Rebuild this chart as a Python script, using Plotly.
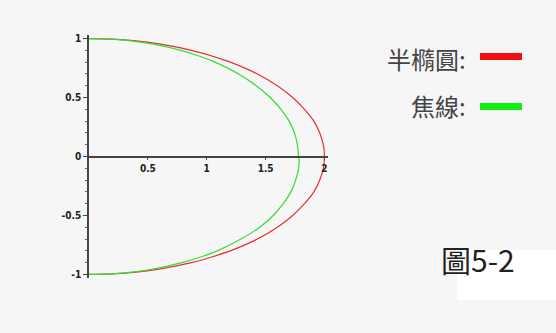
import plotly.graph_objects as go

# ---- data ----
ellipse_y = [1, 0.995, 0.98, 0.95, 0.9, 0.85, 0.8, 0.7, 0.6, 0.5, 0.4, 0.3, 0.2, 0.1, 0,
             -0.1, -0.2, -0.3, -0.4, -0.5, -0.6, -0.7, -0.8, -0.85, -0.9, -0.95, -0.98, -0.995, -1]
ellipse_x = [0, 0.2, 0.4, 0.62, 0.87, 1.05, 1.2, 1.43, 1.6, 1.73, 1.83, 1.91, 1.96, 1.99, 2.0,
             1.99, 1.96, 1.91, 1.83, 1.73, 1.6, 1.43, 1.2, 1.05, 0.87, 0.62, 0.4, 0.2, 0]

focal_y = [1, 0.995, 0.98, 0.95, 0.9, 0.85, 0.8, 0.7, 0.6, 0.5, 0.4, 0.3, 0.2, 0.1, 0, -0.04,
           -0.1, -0.2, -0.3, -0.4, -0.5, -0.6, -0.7, -0.8, -0.85, -0.9, -0.95, -0.98, -0.995, -1]
focal_x = [0, 0.19, 0.36, 0.56, 0.78, 0.94, 1.07, 1.27, 1.42, 1.54, 1.63, 1.70, 1.745, 1.77, 1.78, 1.785,
           1.78, 1.755, 1.715, 1.65, 1.565, 1.45, 1.29, 1.09, 0.955, 0.79, 0.565, 0.365, 0.19, 0]

y_ticks = [-1, -0.5, 0, 0.5, 1]
y_tick_text = ["-1", "-0.5", "0", "0.5", "1"]
x_ticks = [0.5, 1, 1.5, 2]
x_tick_text = ["0.5", "1", "1.5", "2"]

legend_labels = ["半橢圓:", "焦線:"]
legend_colors = ["#ee1111", "#11ee11"]
figure_label = "圖5-2"

# ---- layout helpers (pixel -> paper) ----
L, R, T, B = 89, 228, 35, 55
W, H = 556, 333
PW, PH = W - L - R, H - T - B


def px(x):
    return (x - L) / PW


def py(y):
    return (H - B - y) / PH


fig = go.Figure()
fig.add_trace(go.Scatter(x=ellipse_x, y=ellipse_y, mode="lines", line=dict(color="#e83030", width=1.2, shape="spline"),
                         showlegend=False, hoverinfo="skip"))
fig.add_trace(go.Scatter(x=focal_x, y=focal_y, mode="lines", line=dict(color="#33dd33", width=1.2, shape="spline"),
                         showlegend=False, hoverinfo="skip"))

tickfont = dict(family="DejaVu Sans Condensed", size=10, color="#222", weight="bold")
fig.update_layout(
    width=W, height=H,
    margin=dict(l=L, r=R, t=T, b=B, pad=0),
    paper_bgcolor="#f6f6f6", plot_bgcolor="#f6f6f6",
    showlegend=False,
    xaxis=dict(range=[0, 2.03], anchor="free", position=0.5, showline=True, linecolor="#444", linewidth=1.5,
               showgrid=False, zeroline=False, tickvals=x_ticks, ticktext=x_tick_text, ticks="outside",
               ticklen=3, tickcolor="#444", tickfont=tickfont, fixedrange=True),
    yaxis=dict(range=[-1.03, 1.03], showline=True, linecolor="#444", linewidth=1.5, showgrid=False,
               zeroline=False, tickvals=y_ticks, ticktext=y_tick_text, ticks="outside", ticklen=4,
               tickcolor="#444", tickfont=tickfont,
               minor=dict(dtick=0.1, ticks="outside", ticklen=2, tickcolor="#666"), fixedrange=True),
)

# legend
leg_y = [58, 105]
line_y = [56.5, 106.5]
for lab, col, ty, ly in zip(legend_labels, legend_colors, leg_y, line_y):
    fig.add_annotation(x=px(468), y=py(ty), xref="paper", yref="paper", text=lab, showarrow=False,
                       xanchor="right", yanchor="middle",
                       font=dict(family="Noto Sans CJK TC", size=24, color="#444"))
    fig.add_shape(type="line", xref="paper", yref="paper", x0=px(480), x1=px(522), y0=py(ly), y1=py(ly),
                  line=dict(color=col, width=7))

# white box + figure label
fig.add_shape(type="rect", xref="paper", yref="paper", x0=px(457), x1=px(560), y0=py(300), y1=py(250),
              fillcolor="white", line=dict(width=0), layer="above")
fig.add_annotation(x=px(439), y=py(259), xref="paper", yref="paper", text=figure_label, showarrow=False,
                   xanchor="left", yanchor="middle",
                   font=dict(family="Noto Sans CJK TC", size=30, color="#222"))

fig.write_html("out.html")
